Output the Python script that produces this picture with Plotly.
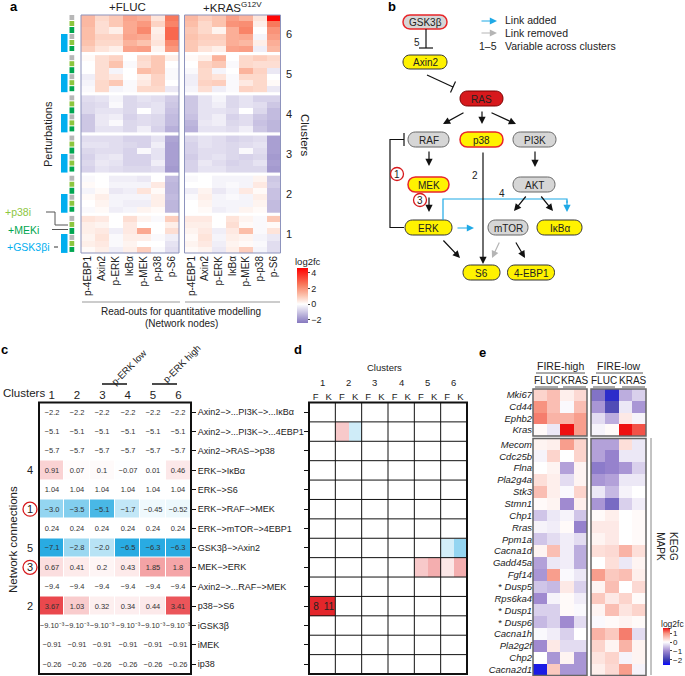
import plotly.graph_objects as go

W, H = 685, 676
FONT = "Liberation Sans, Arial, Helvetica, sans-serif"

# ---------------- panel a data ----------------
readouts = ["p-4EBP1", "Axin2", "p-ERK", "IκBα", "p-MEK", "p-p38", "p-S6"]
clusters_a = [6, 5, 4, 3, 2, 1]
inhibitor_code = [0, 1, 2, 0, 1, 2]   # 0 none, 1 +p38i, 2 +MEKi
gsk3_code = [0, 0, 0, 1, 1, 1]        # +GSK3bi

fluc_c6 = [[1.3, 0.7, 1.0, 1.7, 1.5, 0.5, 2.5], [1.3, 0.6, 1.0, 1.6, 1.9, 0.8, 2.3], [1.2, 0.6, 0.3, 1.6, 2.2, 0.3, 2.8],
           [1.2, 0.8, 0.8, 1.7, 1.6, 0.4, 2.8], [1.1, 0.7, 0.7, 1.4, 1.1, 0.5, 2.2], [0.9, 0.5, 0.3, 1.7, 1.8, 0.2, 1.9]]
kras_c6 = [[1.3, 0.9, 1.1, 1.8, 1.4, 0.5, 4.5], [1.2, 0.7, 1.1, 2.0, 2.1, 0.3, 2.5], [1.0, 0.7, 0.2, 1.5, 2.3, 0.0, 2.0],
           [1.1, 0.9, 0.9, 1.5, 1.6, -0.2, 1.8], [1.0, 0.8, 0.8, 1.5, 1.3, 0.3, 1.5], [1.0, 0.5, 0.3, 1.7, 1.8, -0.3, 1.3]]
fluc_c5 = [[0.1, 0.6, 0.8, 0.0, 0.7, 1.0, 0.3], [0.0, 0.6, 1.1, -0.1, 0.6, 1.0, 0.0], [0.0, 0.6, -0.2, 0.0, 1.2, 1.0, -0.1],
           [-0.3, 0.6, 0.4, 0.0, 0.3, 0.8, -0.1], [-0.2, 0.7, 1.0, -0.1, 0.4, 0.8, 0.0], [-0.1, 0.7, -0.2, -0.1, 0.7, 0.7, -0.4]]
kras_c5 = [[0.1, 0.3, 1.4, 0.0, 0.7, 0.9, 0.7], [0.0, 0.8, 1.0, -0.1, 0.7, 0.6, 0.6], [-0.1, 0.7, -0.2, 0.0, 1.4, 0.8, -0.4],
           [-0.3, 0.7, 0.5, -0.1, 0.7, 0.7, 0.0], [-0.3, 0.8, 0.9, -0.1, 0.4, 0.7, 0.1], [-0.2, 0.6, -0.3, -0.1, 0.8, 0.7, -0.4]]
fluc_c4 = [[-0.6, -0.5, -0.2, -0.7, -0.5, -0.6, -0.9], [-0.7, -0.6, -0.1, -0.7, -0.6, -0.5, -1.0], [-0.7, -0.5, -0.5, -0.7, 0.0, -0.5, -1.1],
           [-1.0, -0.4, -0.3, -0.8, -0.6, -0.7, -1.2], [-1.0, -0.4, -0.1, -0.7, -0.6, -0.7, -1.2], [-1.0, -0.5, -0.5, -0.7, -0.3, -0.8, -1.4]]
kras_c4 = [[-1.0, -0.5, -0.2, -0.7, -0.5, -0.8, -0.8], [-1.0, -0.5, -0.3, -0.7, -0.5, -0.6, -1.0], [-1.0, -0.5, -0.5, -0.6, 0.0, -0.7, -1.2],
           [-1.1, -0.5, -0.3, -0.8, -0.6, -1.0, -1.2], [-1.3, -0.4, -0.3, -0.7, -0.6, -1.1, -1.3], [-1.4, -0.5, -0.5, -0.6, -0.3, -1.0, -1.3]]
fluc_c3 = [[-0.6, -0.6, -0.6, -0.8, -0.8, -0.5, -1.6], [-0.5, -0.5, -0.6, -0.7, -0.8, -0.3, -1.7], [-0.7, -0.6, -0.6, -0.8, -0.1, -0.5, -1.7],
           [-0.8, -0.5, -0.4, -0.8, -0.8, -0.5, -1.7], [-0.7, -0.4, -0.5, -0.8, -0.8, -0.3, -1.7], [-0.8, -0.5, -0.6, -0.7, -0.7, -0.6, -1.8]]
kras_c3 = [[-0.7, -0.5, -0.6, -0.8, -0.7, -0.6, -1.7], [-0.8, -0.5, -0.6, -0.7, -0.6, -0.5, -1.7], [-0.8, -0.6, -0.6, -0.7, -0.1, -0.6, -1.7],
           [-0.9, -0.6, -0.5, -0.7, -0.8, -0.7, -1.8], [-0.8, -0.4, -0.6, -0.8, -0.7, -0.5, -1.7], [-0.8, -0.5, -0.5, -0.7, -0.7, -0.7, -1.8]]
fluc_c2 = [[-0.1, 0.0, -0.3, -0.3, -0.4, 0.0, -1.2], [0.1, 0.0, -0.2, -0.2, -0.2, 0.4, -1.3], [-0.2, 0.1, -0.4, -0.3, 0.5, 0.1, -1.3],
           [0.1, 0.3, -0.2, -0.2, -0.2, 0.3, -1.2], [0.0, 0.2, -0.2, -0.3, -0.3, 0.3, -1.3], [-0.1, 0.1, -0.3, -0.2, 0.2, 0.1, -1.3]]
kras_c2 = [[-0.1, 0.0, -0.2, -0.2, -0.2, 0.2, -1.0], [0.0, 0.0, -0.2, -0.1, -0.2, 0.4, -0.9], [-0.3, 0.2, -0.4, -0.2, 0.4, 0.1, -1.1],
           [-0.1, 0.3, -0.2, -0.1, -0.2, 0.3, -1.1], [0.0, 0.2, -0.2, -0.2, -0.2, 0.2, -1.2], [0.0, 0.1, -0.3, -0.2, 0.2, 0.1, -1.2]]
fluc_c1 = [[0.5, 0.4, 0.0, 0.6, 0.2, -0.1, 0.9], [0.3, 0.2, 0.0, 0.4, 0.0, 0.0, 0.3], [0.3, 0.4, -0.3, 0.4, 1.6, 0.0, 0.6],
           [0.2, 0.5, -0.1, 0.3, 0.3, -0.1, -0.3], [0.3, 0.4, -0.1, 0.2, 0.0, 0.0, -0.5], [0.1, 0.3, -0.3, 0.3, 0.9, -0.1, -0.6]]
kras_c1 = [[0.4, 0.4, 0.0, 0.5, 0.2, -0.1, 1.0], [0.3, 0.3, 0.0, 0.6, 0.1, -0.1, 0.1], [0.2, 0.4, -0.3, 0.4, 1.2, -0.1, 0.5],
           [0.1, 0.5, -0.2, 0.3, 0.2, -0.2, -0.4], [0.2, 0.4, -0.3, 0.2, 0.1, -0.1, -0.6], [0.1, 0.2, -0.4, 0.3, 0.9, -0.2, -0.6]]

# ---------------- panel c data ----------------
connections = ["Axin2−>...PI3K−>...IκBα", "Axin2−>...PI3K−>...4EBP1", "Axin2−>RAS−>p38", "ERK−>IκBα", "ERK−>S6",
               "ERK−>RAF−>MEK", "ERK−>mTOR−>4EBP1", "GSK3β−>Axin2", "MEK−>ERK", "Axin2−>...RAF−>MEK",
               "p38−>S6", "iGSK3β", "iMEK", "ip38"]
clusters_c = ["1", "2", "3", "4", "5", "6"]
c_values = [
    [-2.2, -2.2, -2.2, -2.2, -2.2, -2.2],
    [-5.1, -5.1, -5.1, -5.1, -5.1, -5.1],
    [-5.7, -5.7, -5.7, -5.7, -5.7, -5.7],
    [0.91, 0.07, 0.1, -0.07, 0.01, 0.46],
    [1.04, 1.04, 1.04, 1.04, 1.04, 1.04],
    [-3.0, -3.5, -5.1, -1.7, -0.45, -0.52],
    [0.24, 0.24, 0.24, 0.24, 0.24, 0.24],
    [-7.1, -2.8, -2.0, -6.5, -6.3, -6.3],
    [0.67, 0.41, 0.2, 0.43, 1.85, 1.8],
    [-9.4, -9.4, -9.4, -9.4, -9.4, -9.4],
    [3.67, 1.03, 0.32, 0.34, 0.44, 3.41],
    [-0.009, -0.009, -0.009, -0.009, -0.009, -0.009],
    [-0.91, -0.91, -0.91, -0.91, -0.91, -0.91],
    [-0.26, -0.26, -0.26, -0.26, -0.26, -0.26],
]
c_labels = [
    ["−2.2"] * 6, ["−5.1"] * 6, ["−5.7"] * 6,
    ["0.91", "0.07", "0.1", "−0.07", "0.01", "0.46"],
    ["1.04"] * 6,
    ["−3.0", "−3.5", "−5.1", "−1.7", "−0.45", "−0.52"],
    ["0.24"] * 6,
    ["−7.1", "−2.8", "−2.0", "−6.5", "−6.3", "−6.3"],
    ["0.67", "0.41", "0.2", "0.43", "1.85", "1.8"],
    ["−9.4"] * 6,
    ["3.67", "1.03", "0.32", "0.34", "0.44", "3.41"],
    ["−9.10⁻³"] * 6, ["−0.91"] * 6, ["−0.26"] * 6,
]
variable_links = [("ERK−>IκBα", "4", False), ("ERK−>RAF−>MEK", "1", True), ("GSK3β−>Axin2", "5", False),
                  ("MEK−>ERK", "3", True), ("p38−>S6", "2", False)]

# ---------------- panel d data ----------------
d_columns = ["F", "K"] * 6
d_values = [
    [0, 0, 0, 0, 0, 0, 0, 0, 0, 0, 0, 0],
    [0, 0, 2, -0.9, 0, 0, 0, 0, 0, 0, 0, 0],
    [0, 0, 0, 0, 0, 0, 0, 0, 0, 0, 0, 0],
    [0, 0, 0, 0, 0, 0, 0, 0, 0, 0, 0, 0],
    [0, 0, 0, 0, 0, 0, 0, 0, 0, 0, 0, 0],
    [0, 0, 0, 0, 0, 0, 0, 0, 0, 0, 0, 0],
    [0, 0, 0, 0, 0, 0, 0, 0, 0, 0, 0, 0],
    [0, 0, 0, 0, 0, 0, 0, 0, 0, 0, -0.8, -2.0],
    [0, 0, 0, 0, 0, 0, 0, 0, 2, 3, 0.9, 3],
    [0, 0, 0, 0, 0, 0, 0, 0, 0, 0, 0, 0],
    [8, 11, 0, 0, 0, 0, 0, 0, 0, 0, 0, 0],
    [0, 0, 0, 0, 0, 0, 0, 0, 0, 0, 0, 0],
    [0, 0, 0, 0, 0, 0, 0, 0, 0, 0, 0, 0],
    [0, 0, 0, 0, 0, 0, 0, 0, 0, 0, 0, 0],
]

# ---------------- panel e data ----------------
genes_top = ["Mki67", "Cd44", "Ephb2", "Kras"]
genes_bottom = ["Mecom", "Cdc25b", "Flna", "Pla2g4a", "Stk3", "Stmn1", "Chp1", "Rras", "Ppm1a", "Cacna1d",
                "Gadd45a", "Fgf14", "Dusp5", "Rps6ka4", "Dusp1", "Dusp6", "Cacna1h", "Pla2g2f", "Chp2", "Cacna2d1"]
starred_genes = ["Dusp5", "Dusp1", "Dusp6"]
e_top_high = [[0.4, 0.6, 0.15, 0.35], [1.0, 0.6, -0.05, 0.6], [1.1, 0.7, 0.7, 0.9], [0.05, -0.2, 1.6, 0.9]]
e_top_low = [[-1.3, -2.2, -0.7, -0.4], [-0.9, -1.8, -0.2, -0.9], [-0.3, -0.7, 0.2, -0.1], [-0.1, 0.05, 1.6, 1.3]]
e_bottom_high = [[0.1, 0.15, 0.9, 0.4], [-0.1, 0.4, 0.0, 0.4], [0.0, 0.1, -0.8, 0.1], [0.3, 0.15, -0.3, 0.1],
                 [0.6, 0.15, -0.05, 0.4], [0.05, 0.1, -1.0, 0.15], [-0.5, -0.2, -0.1, -0.5], [-0.1, -0.15, 0.05, -1.1],
                 [-0.5, -0.3, -0.15, -0.3], [0.1, 0.6, -0.15, -0.7], [-0.8, -0.2, -0.15, -0.7], [-0.9, 0.9, -0.05, -0.2],
                 [-0.5, -0.6, 0.2, -0.4], [-1.0, -0.1, 0.05, -0.15], [-0.4, -0.4, 0.05, -0.05], [-0.6, -0.4, -1.0, -0.3],
                 [-0.05, -0.15, -0.4, 0.0], [-1.0, 0.2, -0.3, -0.3], [0.0, -0.9, 0.1, -0.9], [-2.4, 0.5, -0.9, -0.9]]
e_bottom_low = [[-0.8, -0.8, 0.3, -0.2], [-0.8, -1.1, -0.2, -0.2], [-1.2, -1.1, -0.9, -0.4], [-0.9, -0.8, -0.2, -0.2],
                [-0.2, -0.6, -0.1, 0.0], [-0.9, -1.4, -0.4, -0.15], [0.05, 0.15, 0.0, 0.05], [0.2, 0.2, 0.0, 0.05],
                [0.1, 0.2, 0.0, 0.05], [0.3, 0.35, 0.7, 0.3], [0.0, 0.3, -0.2, 0.1], [0.9, 0.5, 0.6, 0.15],
                [0.1, 0.6, 0.0, 0.35], [0.5, 0.2, 0.4, 0.05], [0.1, 0.6, 0.25, 0.4], [-0.05, 0.05, 0.1, 0.05],
                [0.7, 0.5, 1.1, -0.3], [0.4, 0.1, 0.7, 0.1], [0.25, 0.4, -0.1, 0.1], [0.15, 0.35, 0.9, -0.1]]
e_conditions = ["FLUC", "FLUC", "KRAS", "KRAS"]


def xd(a, b):
    return [a / W, b / W]


def yd(t, b):
    return [1 - b / H, 1 - t / H]


fig = go.Figure()
P = dict(xref="x9", yref="y9")  # pixel overlay reference
annotations, shapes = [], []


def txt(x, y, s, size=10, color="#222", **kw):
    d = dict(x=x, y=y, text=s, showarrow=False, font=dict(size=size, color=color, family=FONT))
    d.update(P)
    d.update(kw)
    annotations.append(d)


def line(x0, y0, x1, y1, color="#111", width=1.2, **kw):
    d = dict(type="line", x0=x0, y0=y0, x1=x1, y1=y1, line=dict(color=color, width=width))
    d.update(P)
    d.update(kw)
    shapes.append(d)


def arrow(tail, head, color="#111", width=1.2):
    d = dict(x=head[0], y=head[1], ax=tail[0], ay=tail[1], axref="x9", ayref="y9", text="", showarrow=True,
             arrowhead=2, arrowsize=1.2, arrowwidth=width, arrowcolor=color, standoff=0, startstandoff=0,
             font=dict(size=10))
    d.update(P)
    annotations.append(d)


# ================= panel a =================
fluc_sets = [fluc_c6, fluc_c5, fluc_c4, fluc_c3, fluc_c2, fluc_c1]
kras_sets = [kras_c6, kras_c5, kras_c4, kras_c3, kras_c2, kras_c1]
STEP = 6.5
for k, c in enumerate(clusters_a):
    ys = [k * STEP + r for r in range(len(inhibitor_code))]
    fig.add_trace(go.Heatmap(z=fluc_sets[k], x=list(range(len(readouts))), y=ys, coloraxis="coloraxis",
                             xaxis="x", yaxis="y", hoverinfo="skip"))
    fig.add_trace(go.Heatmap(z=kras_sets[k], x=list(range(len(readouts))), y=ys, coloraxis="coloraxis",
                             xaxis="x2", yaxis="y", hoverinfo="skip"))
    fig.add_trace(go.Heatmap(z=[[v] for v in inhibitor_code], x=[0], y=ys, zmin=0, zmax=2, showscale=False,
                             colorscale=[[0, "#b7b7b7"], [0.5, "#8dc63f"], [1, "#00a651"]], ygap=1,
                             xaxis="x3", yaxis="y3", hoverinfo="skip"))
    fig.add_trace(go.Heatmap(z=[[1] if g else [None] for g in gsk3_code], x=[0], y=ys, zmin=0, zmax=1,
                             showscale=False, colorscale=[[0, "#00aeef"], [1, "#00aeef"]],
                             xaxis="x4", yaxis="y3", hoverinfo="skip"))
    annotations.append(dict(x=289, y=k * STEP + 2.5, xref="x9", yref="y", text=str(c), showarrow=False,
                            font=dict(size=11, color="#222", family=FONT)))

for ax in ["x", "x2"]:
    shapes.append(dict(type="rect", xref=f"{ax} domain", yref="y domain", x0=0, x1=1, y0=0, y1=1,
                       line=dict(color="#8d93bd", width=1)))

txt(14, 6, "<b>a</b>", size=13, color="#000")
txt(127, 7, "+FLUC", size=11.5)
txt(232, 7, "+KRAS<sup>G12V</sup>", size=11.5)
txt(305, 135, "Clusters", size=11.5, textangle=90)
txt(48, 134, "Perturbations", size=11, textangle=-90)
txt(33, 212, "+p38i", size=10.5, color="#8dc63f", xanchor="right")
txt(41, 230, "+MEKi", size=10.5, color="#00a651", xanchor="right")
txt(52, 247, "+GSK3βi", size=10.5, color="#00aeef", xanchor="right")
line(54, 247, 58, 247, color="#333", width=1)
shapes.append(dict(type="path", path="M46,212 L55,212 L55,225 L68,225", line=dict(color="#555", width=1), **P))
line(52, 229.5, 68, 229.5, color="#555", width=1)
line(82, 302, 180, 302, color="#999", width=1)
line(185, 302, 280, 302, color="#999", width=1)
txt(181, 311, "Read-outs for quantitative modelling", size=10)
txt(181, 323, "(Network nodes)", size=10)
txt(308, 261, "log2fc", size=9.5)

# ================= panel b =================
YEL, GRAY, RED, DARK, DGRAY = "#fff200", "#d6d6d6", "#e8262a", "#333333", "#666666"
nodes = [
    ("GSK3β", 425, 22, 44, 14, GRAY, RED, 1.5), ("Axin2", 425, 62, 44, 14, YEL, DARK, 1),
    ("RAS", 481.5, 98.5, 43, 15, "#d7191c", "#7a0000", 1), ("RAF", 428.5, 139.5, 41, 15, GRAY, DGRAY, 1),
    ("p38", 481.5, 139.5, 43, 15, YEL, RED, 1.5), ("PI3K", 534.5, 139.5, 43, 15, GRAY, DGRAY, 1),
    ("MEK", 428.5, 184.5, 41, 15, YEL, RED, 1.5), ("AKT", 534, 184.5, 42, 15, GRAY, DGRAY, 1),
    ("ERK", 428.5, 227.5, 47, 15, YEL, DARK, 1), ("mTOR", 508, 227.5, 40, 15, GRAY, DGRAY, 1),
    ("IκBα", 559.5, 227.5, 45, 15, YEL, DARK, 1), ("S6", 481.5, 272.5, 37, 15, YEL, DARK, 1),
    ("4-EBP1", 531, 272.5, 47, 15, YEL, DARK, 1),
]


def pill(cx, cy, w, h):
    r = h / 2
    x0, x1, y0, y1, k = cx - w / 2 + r, cx + w / 2 - r, cy - r, cy + r, 4 / 3 * r
    return (f"M{x0},{y0} L{x1},{y0} C{x1 + k},{y0} {x1 + k},{y1} {x1},{y1} "
            f"L{x0},{y1} C{x0 - k},{y1} {x0 - k},{y0} {x0},{y0} Z")


for name, cx, cy, w, h, fill, edge, lw in nodes:
    shapes.append(dict(type="path", path=pill(cx, cy, w, h), fillcolor=fill, line=dict(color=edge, width=lw), **P))
    txt(cx, cy + 0.5, name, size=10, color="#222")

txt(392, 6, "<b>b</b>", size=13, color="#000")
# inhibition edges
line(426, 29, 426, 48)
line(419, 48, 433, 48)
txt(417, 42, "5", size=10)
line(427, 75, 453, 87)
line(450.5, 92.4, 455.5, 81.6)
shapes.append(dict(type="path", path="M404,227.5 L390,227.5 L390,139.5 L404,139.5", line=dict(color="#111", width=1.2), **P))
line(404, 133, 404, 146)
# activations
for t, hd in [((465, 112), (443, 124)), ((482, 110), (482, 124)), ((490, 112), (516, 124)),
              ((429, 150), (429, 166)), ((535, 150), (535, 167)), ((429, 196), (429, 212)),
              ((527, 195), (514, 211)), ((540, 195), (553, 211)), ((483, 151), (483, 264)),
              ((442, 239), (460, 258)), ((515, 241), (525, 258))]:
    arrow(t, hd)
arrow((500, 241), (492, 258), color="#b5b5b5")
arrow((456, 228), (474, 228), color="#1fa9e6")
shapes.append(dict(type="path", path="M443,220 L443,199 L567,199 L567,203", line=dict(color="#1fa9e6", width=1.2), **P))
arrow((567, 199), (567, 212), color="#1fa9e6")
txt(475, 175, "2", size=10)
txt(502, 193, "4", size=10)
for cx, cy, s in [(397, 174, "1"), (420, 200, "3")]:
    shapes.append(dict(type="circle", x0=cx - 6.5, x1=cx + 6.5, y0=cy - 6.5, y1=cy + 6.5,
                       line=dict(color="#d7191c", width=1.3), **P))
    txt(cx, cy + 0.5, s, size=10)
# legend
arrow((480, 21), (497, 21), color="#1fa9e6")
arrow((480, 33), (497, 33), color="#b5b5b5")
txt(503, 20, "Link added", size=10.5, xanchor="left")
txt(503, 33, "Link removed", size=10.5, xanchor="left")
txt(488, 46, "1–5", size=10.5)
txt(503, 46, "Variable across clusters", size=10.5, xanchor="left")

# ================= panel c =================
c_colour = [row if max(row) != min(row) else [0] * len(row) for row in c_values]
fig.add_trace(go.Heatmap(z=c_colour, x=list(range(len(clusters_c))), y=list(range(len(connections))),
                         coloraxis="coloraxis2", xgap=1, ygap=1, text=c_labels, texttemplate="%{text}",
                         textfont=dict(size=7.5, color="#333", family=FONT), xaxis="x5", yaxis="y5", hoverinfo="skip"))
shapes.append(dict(type="rect", xref="x5 domain", yref="y5 domain", x0=0, x1=1, y0=0, y1=1,
                   line=dict(color="#111", width=2)))
txt(4, 349, "<b>c</b>", size=13, color="#000")
txt(1, 393, "Clusters", size=11.5, xanchor="left")
txt(128.5, 367, "p-ERK low", size=9.5, textangle=-45)
txt(181.5, 363, "p-ERK high", size=9.5, textangle=-45)
line(102, 384, 127, 384, width=1.5)
line(152, 384, 177, 384, width=1.5)
txt(13, 540, "Network connections", size=11.5, textangle=-90)
for name, lab, circled in variable_links:
    ri = connections.index(name)
    annotations.append(dict(x=30, y=ri, xref="x9", yref="y5", text=lab, showarrow=False,
                            font=dict(size=11, color="#222", family=FONT)))
    if circled:
        shapes.append(dict(type="circle", xref="x9", yref="y5", x0=23, x1=37, y0=ri - 0.36, y1=ri + 0.36,
                           line=dict(color="#d7191c", width=1.3)))

# ================= panel d =================
d_text = [[str(int(v)) if abs(v) >= 5 else "" for v in row] for row in d_values]
fig.add_trace(go.Heatmap(z=d_values, x=list(range(len(d_columns))), y=list(range(len(connections))),
                         coloraxis="coloraxis3", text=d_text, texttemplate="%{text}",
                         textfont=dict(size=10, color="#222", family=FONT), xaxis="x6", yaxis="y6", hoverinfo="skip"))
n_cl = len(d_columns) // 2
for i in range(1, n_cl):
    shapes.append(dict(type="line", xref="x6", yref="y6 domain", x0=2 * i - 0.5, x1=2 * i - 0.5, y0=0, y1=1,
                       line=dict(color="#111", width=1)))
for r in range(len(connections) - 1):
    shapes.append(dict(type="line", xref="x6 domain", yref="y6", x0=0, x1=1, y0=r + 0.5, y1=r + 0.5,
                       line=dict(color="#111", width=1)))
shapes.append(dict(type="rect", xref="x6 domain", yref="y6 domain", x0=0, x1=1, y0=0, y1=1,
                   line=dict(color="#111", width=2)))
txt(298, 349, "<b>d</b>", size=13, color="#000")
txt(384, 367, "Clusters", size=9.5)
for i in range(n_cl):
    annotations.append(dict(x=2 * i + 0.5, y=382, xref="x6", yref="y9", text=clusters_c[i], showarrow=False,
                            font=dict(size=9.5, color="#222", family=FONT)))

# ================= panel e =================
blocks = [(e_top_high, "x7", "y7"), (e_top_low, "x8", "y7"), (e_bottom_high, "x7", "y8"), (e_bottom_low, "x8", "y8")]
for z, xa, ya in blocks:
    fig.add_trace(go.Heatmap(z=z, x=list(range(len(e_conditions))), y=list(range(len(z))), coloraxis="coloraxis4",
                             xaxis=xa, yaxis=ya, hoverinfo="skip"))
    shapes.append(dict(type="rect", xref=f"{xa} domain", yref=f"{ya} domain", x0=0, x1=1, y0=0, y1=1,
                       line=dict(color="#666", width=1.5)))


def gene_label(g):
    return ("* " if g in starred_genes else "") + f"<i>{g}</i>"


txt(482, 352, "<b>e</b>", size=13, color="#000")
txt(560, 366, "FIRE-high", size=10.5)
txt(619, 366, "FIRE-low", size=10.5)
line(536, 373, 585, 373, color="#555", width=1)
line(596, 373, 643, 373, color="#555", width=1)
for x, s in [(547, "FLUC"), (575, "KRAS"), (604, "FLUC"), (633, "KRAS")]:
    txt(x, 380, s, size=10)
for a, b in [(535, 558), (563, 586), (593, 615), (622, 645)]:
    line(a, 387, b, 387, color="#555", width=1)
line(651, 438, 651, 675, color="#888", width=1)
txt(667, 546, "KEGG<br>MAPK", size=10, textangle=90)
txt(672, 624, "log2fc", size=8.5)

# ================= layout =================
base = dict(showgrid=False, zeroline=False, fixedrange=True)
hidden = dict(visible=False, showgrid=False, zeroline=False)
fig.add_trace(go.Scatter(x=[], y=[], xaxis="x9", yaxis="y9", showlegend=False))
fig.update_layout(
    width=W, height=H, margin=dict(l=0, r=0, t=0, b=0, pad=0, autoexpand=False), autosize=False,
    paper_bgcolor="white", plot_bgcolor="rgba(0,0,0,0)", showlegend=False,
    font=dict(family=FONT, color="#222"),
    xaxis=dict(domain=xd(81, 179), range=[-0.5, 6.5], anchor="y", tickvals=list(range(7)), ticktext=readouts,
               tickangle=-90, tickfont=dict(size=10), ticks="", **base),
    xaxis2=dict(domain=xd(184.5, 280.5), range=[-0.5, 6.5], anchor="y", tickvals=list(range(7)), ticktext=readouts,
                tickangle=-90, tickfont=dict(size=10), ticks="", **base),
    yaxis=dict(domain=yd(15, 253), range=[38, -0.5], anchor="x", showticklabels=False, ticks="", **base),
    xaxis3=dict(domain=xd(69.3, 74.7), range=[-0.5, 0.5], anchor="y3", **hidden),
    xaxis4=dict(domain=xd(61, 67.5), range=[-0.5, 0.5], anchor="y3", **hidden),
    yaxis3=dict(domain=yd(15, 253), range=[38, -0.5], anchor="x3", **hidden),
    xaxis5=dict(domain=xd(39, 191), range=[-0.5, 5.5], anchor="y5", side="top", tickvals=list(range(6)),
                ticktext=clusters_c, tickfont=dict(size=11.5), ticks="", **base),
    yaxis5=dict(domain=yd(402.5, 674), range=[13.5, -0.5], anchor="x5", side="right",
                tickvals=list(range(len(connections))), ticktext=connections, tickfont=dict(size=9),
                ticks="outside", ticklen=4, tickcolor="#111", **base),
    xaxis6=dict(domain=xd(309, 467), range=[-0.5, 11.5], anchor="y6", side="top", tickvals=list(range(12)),
                ticktext=d_columns, tickfont=dict(size=9.5), ticks="", **base),
    yaxis6=dict(domain=yd(402.5, 674), range=[13.5, -0.5], anchor="x6", showticklabels=False,
                tickvals=list(range(len(connections))), ticks="outside", ticklen=4, tickcolor="#111", **base),
    xaxis7=dict(domain=xd(533, 587), range=[-0.5, 3.5], anchor="y7", **hidden),
    xaxis8=dict(domain=xd(591, 646), range=[-0.5, 3.5], anchor="y7", **hidden),
    yaxis7=dict(domain=yd(389, 436), range=[3.5, -0.5], anchor="x7", tickvals=list(range(4)),
                ticktext=[gene_label(g) for g in genes_top], tickfont=dict(size=9.5), ticks="", **base),
    yaxis8=dict(domain=yd(438.5, 675.5), range=[19.5, -0.5], anchor="x7", tickvals=list(range(len(genes_bottom))),
                ticktext=[gene_label(g) for g in genes_bottom], tickfont=dict(size=9.5), ticks="", **base),
    xaxis9=dict(domain=[0, 1], range=[0, W], anchor="y9", **hidden),
    yaxis9=dict(domain=[0, 1], range=[H, 0], anchor="x9", **hidden),
    coloraxis=dict(cmin=-2.4, cmax=4.6,
                   colorscale=[[0, "#8678bf"], [0.343, "#ffffff"], [0.5, "#fcc3ae"], [0.7, "#f8795c"], [1, "#ff0000"]],
                   colorbar=dict(x=297 / W, xanchor="left", y=1 - 295.5 / H, yanchor="middle", len=55,
                                 lenmode="pixels", thickness=11, xpad=0, ypad=0, outlinewidth=0,
                                 tickvals=[4, 2, 0, -2], ticktext=["4", "2", "0", "−2"], ticks="outside",
                                 ticklen=2, tickfont=dict(size=9))),
    coloraxis2=dict(cmin=-6, cmax=4, colorscale=[[0, "#29abe2"], [0.6, "#ffffff"], [1, "#e8383d"]], showscale=False),
    coloraxis3=dict(cmin=-4, cmax=8, colorscale=[[0, "#29abe2"], [0.3333, "#ffffff"], [1, "#e3262b"]], showscale=False),
    coloraxis4=dict(cmin=-2.6, cmax=1.6,
                    colorscale=[[0, "#0a0aff"], [0.143, "#3d3db0"], [0.381, "#a08ad0"], [0.619, "#ffffff"],
                                [0.857, "#f79380"], [1, "#ee1111"]],
                    colorbar=dict(x=663 / W, xanchor="left", y=1 - 646.5 / H, yanchor="middle", len=37,
                                  lenmode="pixels", thickness=7, xpad=0, ypad=0, outlinewidth=0,
                                  tickvals=[1, 0, -1, -2], ticktext=["1", "0", "−1", "−2"], ticks="outside",
                                  ticklen=2, tickfont=dict(size=8))),
    annotations=annotations, shapes=shapes,
)

# the browser's default 8px body margin would push the fixed-size figure off the window
fig.write_html("out.html", config={"displayModeBar": False},
               post_script="document.body.style.margin='0';document.body.style.overflow='hidden';")
